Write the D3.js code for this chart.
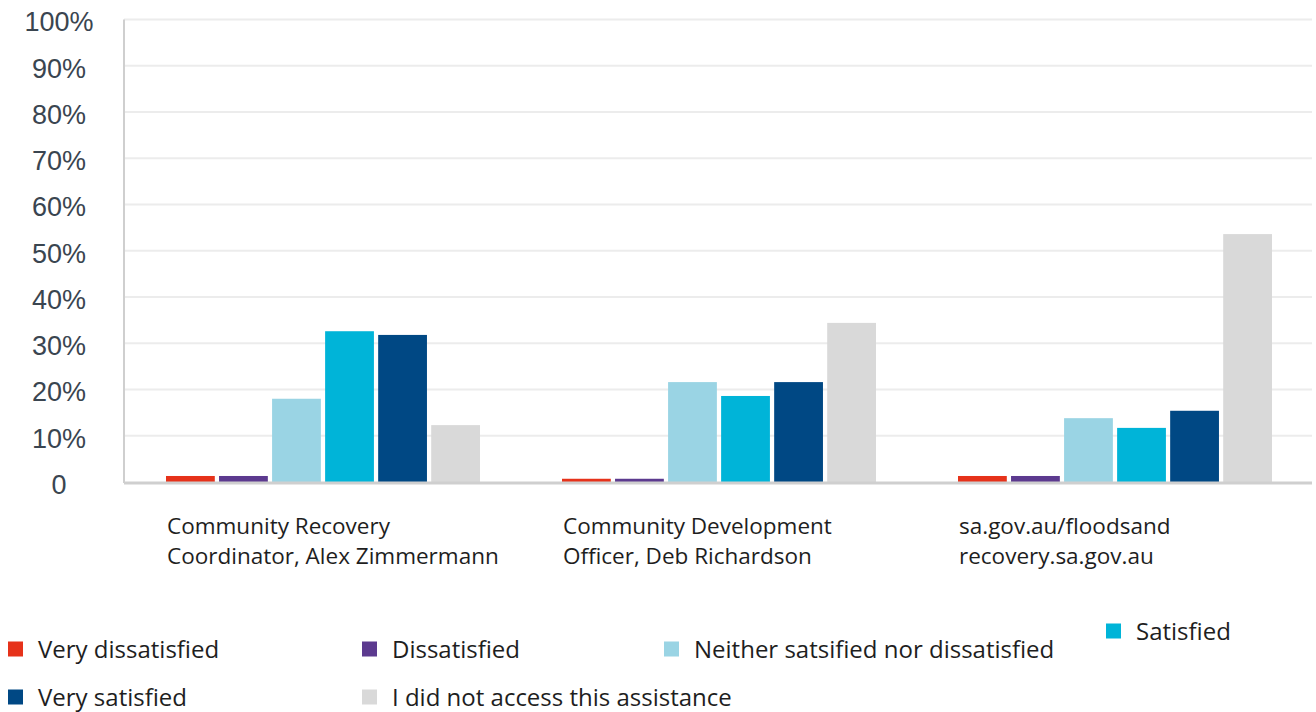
<!DOCTYPE html>
<html>
<head>
<meta charset="utf-8">
<script src="https://cdn.jsdelivr.net/npm/d3@7"></script>
<style>
	body { margin: 0; background: #fff; }
	svg { display: block; }
	.y-scale text { font-family: "Liberation Sans", Arial, sans-serif; font-size: 27px; fill: #3a4550; }
	.cat-label { font-family: "Open Sans", "Noto Sans", sans-serif; font-size: 22.5px; fill: #1e1e1e; }
	.legend text { font-family: "Open Sans", "Noto Sans", sans-serif; font-size: 24px; fill: #1e1e1e; }
</style>
</head>
<body>
<div id="chart"></div>
<script>
// datos
const categories = [
	['Community Recovery', 'Coordinator, Alex Zimmermann'],
	['Community Development', 'Officer, Deb Richardson'],
	['sa.gov.au/floodsand', 'recovery.sa.gov.au']
];
const seriesNames = [
	'Very dissatisfied',
	'Dissatisfied',
	'Neither satsified nor dissatisfied',
	'Satisfied',
	'Very satisfied',
	'I did not access this assistance'
];
const veryDissatisfied = [1.3, 0.7, 1.3];
const dissatisfied = [1.3, 0.7, 1.3];
const neither = [18, 21.6, 13.8];
const satisfied = [32.6, 18.6, 11.7];
const verySatisfied = [31.8, 21.6, 15.4];
const didNotAccess = [12.3, 34.4, 53.6];
const yTicks = [0, 10, 20, 30, 40, 50, 60, 70, 80, 90, 100];

const seriesValues = [veryDissatisfied, dissatisfied, neither, satisfied, verySatisfied, didNotAccess];
const colors = ['#e6321a', '#5c3a8f', '#9ad4e4', '#00b4d8', '#004884', '#d9d9d9'];

const width = 1316, height = 712;
const margin = { left: 124, right: 4, top: 19.5, bottom: 230 };

const svg = d3.select('#chart').append('svg')
	.attr('width', width).attr('height', height)
	.attr('viewBox', [0, 0, width, height]);

const catKeys = categories.map(c => c.join(' '));
const x0 = d3.scaleBand()
	.domain(catKeys)
	.range([margin.left, width - margin.right])
	.padding(0);
const x1 = d3.scaleBand()
	.domain(seriesNames)
	.range([42, 356])
	.paddingInner(0.08)
	.paddingOuter(0);
const y = d3.scaleLinear()
	.domain([0, 100])
	.range([height - margin.bottom, margin.top]);

// grilla
svg.append('g').attr('class', 'grid')
	.selectAll('line')
	.data(yTicks.filter(d => d > 0))
	.join('line')
	.attr('x1', margin.left).attr('x2', width - margin.right)
	.attr('y1', d => y(d)).attr('y2', d => y(d))
	.attr('stroke', '#ececec').attr('stroke-width', 2);

// eje y
const yAxis = svg.append('g').attr('class', 'y-scale')
	.call(d3.axisLeft(y).tickValues(yTicks).tickSize(0).tickPadding(0)
		.tickFormat(d => d === 0 ? '0' : d + '%'));
yAxis.select('.domain').remove();
yAxis.selectAll('text')
	.attr('text-anchor', 'middle')
	.attr('x', 59)
	.attr('dy', '0.42em');

svg.append('line')
	.attr('x1', margin.left).attr('x2', margin.left)
	.attr('y1', y(100)).attr('y2', y(0) + 1)
	.attr('stroke', '#cfcfcf').attr('stroke-width', 2);

// barras
const groups = svg.append('g').attr('class', 'bars')
	.selectAll('g')
	.data(categories.map((c, i) => ({ key: catKeys[i], values: seriesValues.map((s, j) => ({ name: seriesNames[j], value: s[i], color: colors[j] })) })))
	.join('g')
	.attr('transform', d => `translate(${x0(d.key)},0)`);

groups.selectAll('rect')
	.data(d => d.values)
	.join('rect')
	.attr('x', d => x1(d.name))
	.attr('width', x1.bandwidth())
	.attr('y', d => y(d.value))
	.attr('height', d => y(0) - y(d.value))
	.attr('fill', d => d.color);

// línea base
svg.append('line')
	.attr('x1', margin.left).attr('x2', width - margin.right)
	.attr('y1', y(0) + 1).attr('y2', y(0) + 1)
	.attr('stroke', '#cfcfcf').attr('stroke-width', 3);

// etiquetas de categoría
svg.append('g')
	.selectAll('text')
	.data(categories.map((c, i) => ({ key: catKeys[i], lines: c })))
	.join('text')
	.attr('class', 'cat-label')
	.attr('x', d => x0(d.key) + x1.range()[0] + 1)
	.attr('y', 534)
	.selectAll('tspan')
	.data(d => d.lines.map((l, k) => ({ l, k, x: x0(d.key) + x1.range()[0] + 1 })))
	.join('tspan')
	.attr('x', d => d.x)
	.attr('dy', d => d.k === 0 ? 0 : 30)
	.text(d => d.l);

// leyenda
const legendPos = [[8, 649], [362, 649], [664, 649], [1106, 631], [8, 697], [362, 697]];
const legend = svg.append('g').attr('class', 'legend')
	.selectAll('g')
	.data(seriesNames.map((n, i) => ({ name: n, color: colors[i], pos: legendPos[i] })))
	.join('g')
	.attr('transform', d => `translate(${d.pos[0]},${d.pos[1]})`);
legend.append('rect')
	.attr('x', 0).attr('y', -7.5)
	.attr('width', 15).attr('height', 15)
	.attr('fill', d => d.color);
legend.append('text')
	.attr('x', 30)
	.attr('dy', '0.36em')
	.text(d => d.name);
</script>
</body>
</html>
